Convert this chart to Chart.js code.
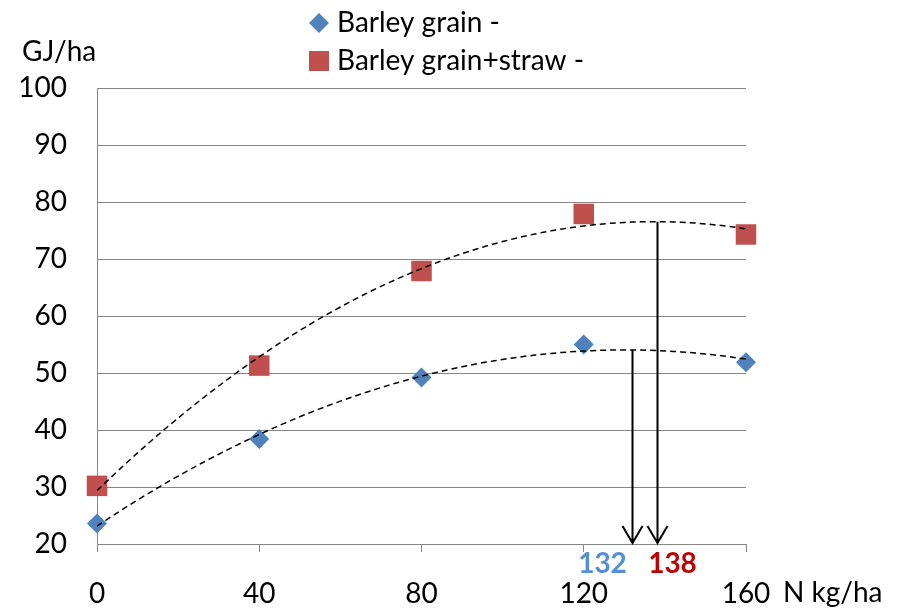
<!DOCTYPE html>
<html>
<head>
<meta charset="utf-8">
<script src="https://cdn.jsdelivr.net/npm/chart.js@4/dist/chart.umd.min.js"></script>
<style>
  html, body { margin: 0; padding: 0; background: #fff; }
  #wrap { width: 897px; height: 610px; position: relative; }
</style>
</head>
<body>
<div id="wrap"><canvas id="c" width="897" height="610"></canvas></div>
<script>
// Nitrogen rates (kg N/ha)
const nRates = [0, 40, 80, 120, 160];
// Energy yield (GJ/ha)
const grainGJ = [23.6, 38.4, 49.2, 55.0, 51.9];
const grainStrawGJ = [30.2, 51.3, 67.9, 77.9, 74.3];
// Economic optimum N rates marked with arrows
const optimumN = [132, 138];
const seriesNames = ['Barley grain -', 'Barley grain+straw -'];
const xTicks = [0, 40, 80, 120, 160];
const yTicks = [20, 30, 40, 50, 60, 70, 80, 90, 100];

const BLUE = '#4F81BD';
const RED = '#C0504D';
const FONT = 'Lato, "Open Sans", sans-serif';
const FS = 28;

// Least-squares quadratic trend y = a + b x + c x^2
function quadFit(xs, ys) {
  const n = xs.length;
  let s = [0, 0, 0, 0, 0], t = [0, 0, 0];
  for (let i = 0; i < n; i++) {
    const x = xs[i], y = ys[i];
    for (let k = 0; k < 5; k++) s[k] += Math.pow(x, k);
    for (let k = 0; k < 3; k++) t[k] += y * Math.pow(x, k);
  }
  const M = [[s[0], s[1], s[2], t[0]], [s[1], s[2], s[3], t[1]], [s[2], s[3], s[4], t[2]]];
  for (let i = 0; i < 3; i++) {
    for (let j = i + 1; j < 3; j++) {
      const f = M[j][i] / M[i][i];
      for (let k = i; k < 4; k++) M[j][k] -= f * M[i][k];
    }
  }
  const r = [0, 0, 0];
  for (let i = 2; i >= 0; i--) {
    let v = M[i][3];
    for (let k = i + 1; k < 3; k++) v -= M[i][k] * r[k];
    r[i] = v / M[i][i];
  }
  return x => r[0] + r[1] * x + r[2] * x * x;
}

const fitGrain = quadFit(nRates, grainGJ);
const fitStraw = quadFit(nRates, grainStrawGJ);
function trendPoints(f) {
  const pts = [];
  for (let x = nRates[0]; x <= nRates[nRates.length - 1]; x += 2) pts.push({ x, y: f(x) });
  return pts;
}

const toXY = ys => nRates.map((x, i) => ({ x, y: ys[i] }));

// Legend, axis captions, arrows and optimum labels
const annotations = {
  id: 'annotations',
  afterDatasetsDraw(chart) {
    const { ctx, scales: { x, y } } = chart;
    ctx.save();

    // arrows from the trend maximum down to the axis
    const fits = [fitGrain, fitStraw];
    const labelColors = ['#558ED5', '#C00000'];
    const labelOffsets = [-30, 15];
    optimumN.forEach((n, i) => {
      const px = Math.round(x.getPixelForValue(n)) + 0.5;
      const yTop = y.getPixelForValue(fits[i](n));
      const yBot = y.getPixelForValue(20) - 1;
      ctx.strokeStyle = '#000';
      ctx.lineWidth = 2;
      ctx.setLineDash([]);
      ctx.beginPath();
      ctx.moveTo(px, yTop);
      ctx.lineTo(px, yBot);
      ctx.moveTo(px - 10, yBot - 17);
      ctx.lineTo(px, yBot);
      ctx.lineTo(px + 10, yBot - 17);
      ctx.stroke();

      ctx.fillStyle = labelColors[i];
      ctx.font = 'bold ' + FS + 'px ' + FONT;
      ctx.textAlign = 'center';
      ctx.textBaseline = 'middle';
      ctx.fillText(String(n), px + labelOffsets[i], y.bottom + 20);
    });

    // legend
    ctx.font = FS + 'px ' + FONT;
    ctx.textAlign = 'left';
    ctx.textBaseline = 'middle';
    ctx.fillStyle = BLUE;
    ctx.beginPath();
    ctx.moveTo(319, 13); ctx.lineTo(329, 23); ctx.lineTo(319, 33); ctx.lineTo(309, 23);
    ctx.closePath();
    ctx.fill();
    ctx.fillStyle = '#000';
    ctx.fillText(seriesNames[0], 337, 23);
    ctx.fillStyle = RED;
    ctx.fillRect(309, 51, 20, 20);
    ctx.fillStyle = '#000';
    ctx.fillText(seriesNames[1], 337, 61);

    // axis captions
    ctx.fillText('GJ/ha', 22, 52);
    ctx.fillText('N kg/ha', 783, 593);
    ctx.restore();
  }
};

new Chart(document.getElementById('c'), {
  type: 'scatter',
  data: {
    datasets: [
      {
        label: seriesNames[0],
        data: toXY(grainGJ),
        pointStyle: 'rectRot',
        pointRadius: 10,
        backgroundColor: BLUE,
        borderColor: BLUE,
        borderWidth: 0,
        clip: false,
        order: 1
      },
      {
        label: seriesNames[1],
        data: toXY(grainStrawGJ),
        pointStyle: 'rect',
        pointRadius: 14.5,
        backgroundColor: RED,
        borderColor: RED,
        borderWidth: 0,
        clip: false,
        order: 1
      },
      {
        type: 'line',
        data: trendPoints(fitGrain),
        borderColor: '#000',
        borderWidth: 1.5,
        borderDash: [6, 4],
        pointRadius: 0,
        fill: false,
        order: 0
      },
      {
        type: 'line',
        data: trendPoints(fitStraw),
        borderColor: '#000',
        borderWidth: 1.5,
        borderDash: [6, 4],
        pointRadius: 0,
        fill: false,
        order: 0
      }
    ]
  },
  options: {
    responsive: false,
    animation: false,
    devicePixelRatio: 1,
    layout: { padding: { top: 88, right: 151, left: 0, bottom: 0 } },
    plugins: { legend: { display: false }, tooltip: { enabled: false } },
    scales: {
      x: {
        type: 'linear',
        min: 0,
        max: 160,
        afterBuildTicks: s => { s.ticks = xTicks.map(v => ({ value: v })); },
        afterFit: s => { s.height = 66; },
        ticks: { color: '#000', font: { family: FONT, size: FS }, padding: 25, maxRotation: 0 },
        grid: { drawOnChartArea: false, drawTicks: true, tickLength: 8, color: '#868686', lineWidth: 1 },
        border: { color: '#868686', width: 1 }
      },
      y: {
        min: 20,
        max: 100,
        afterBuildTicks: s => { s.ticks = yTicks.map(v => ({ value: v })); },
        afterFit: s => { s.width = 97; },
        ticks: { color: '#000', font: { family: FONT, size: FS }, padding: 30 },
        grid: { drawTicks: false, color: '#868686', lineWidth: 1 },
        border: { color: '#868686', width: 1 }
      }
    }
  },
  plugins: [annotations]
});
</script>
</body>
</html>
